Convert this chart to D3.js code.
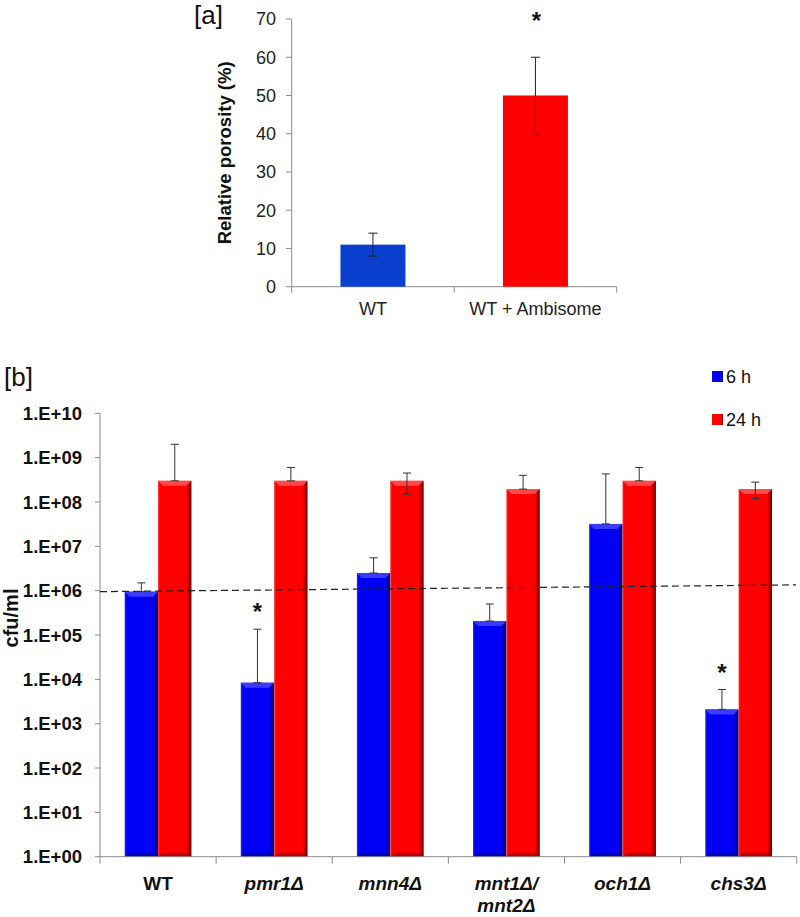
<!DOCTYPE html>
<html><head><meta charset="utf-8">
<script src="https://cdn.jsdelivr.net/npm/d3@7"></script>
<style>body{margin:0;background:#fff;} svg{display:block;font-family:"Liberation Sans", Arial, sans-serif;}</style>
</head><body>
<svg id="chart" width="800" height="917"></svg>
<script>
// ---- Panel a data
const aCategories = ["WT", "WT + Ambisome"];
const aValues = [11, 50];
const aErrors = [3, 10];
const aColors = ["#0b3fd0", "#ff0000"];
const aTicks = [0, 10, 20, 30, 40, 50, 60, 70];
const aSignif = [false, true];

// ---- Panel b data
const bCategories = ["WT", "pmr1Δ", "mnn4Δ", "mnt1Δ/|mnt2Δ", "och1Δ", "chs3Δ"];
const bItalic = [false, true, true, true, true, true];
const series = ["6 h", "24 h"];
const values6h = [9.5e5, 8.4e3, 2.5e6, 2.07e5, 3.2e7, 2.1e3];
const errUp6h = [1.5e6, 1.35e5, 5.5e6, 5e5, 4.3e8, 5.9e3];
const values24h = [3e8, 3e8, 3e8, 1.95e8, 3e8, 1.95e8];
const errUp24h = [2e9, 6e8, 4.5e8, 4e8, 6e8, 2.8e8];
const errLo24h = [3e8, 3e8, 1.5e8, 1.95e8, 3e8, 1.2e8];
const signif6h = [false, true, false, false, false, true];
const bTicks = [1, 10, 1e2, 1e3, 1e4, 1e5, 1e6, 1e7, 1e8, 1e9, 1e10];
const bTickLabels = ["1.E+00","1.E+01","1.E+02","1.E+03","1.E+04","1.E+05","1.E+06","1.E+07","1.E+08","1.E+09","1.E+10"];
const refLine = [9.5e5, 1.35e6]; // dashed reference line, left and right ends

const svg = d3.select("#chart");
const axisColor = "#8a8a8a";

const defs = svg.append("defs");
function grad(id, light, mid, dark) {
  const g = defs.append("linearGradient").attr("id", id).attr("x1", "0").attr("x2", "1").attr("y1", "0").attr("y2", "0");
  g.append("stop").attr("offset", "0").attr("stop-color", light);
  g.append("stop").attr("offset", "0.06").attr("stop-color", mid);
  g.append("stop").attr("offset", "0.85").attr("stop-color", mid);
  g.append("stop").attr("offset", "1").attr("stop-color", dark);
}
grad("gBlue", "#2b2bff", "#0000f6", "#00006a");
grad("gRed", "#ff2a2a", "#ff0000", "#6a0000");

// ================= Panel a
{
  const x = d3.scaleBand().domain(aCategories).range([291.7, 616.7]);
  const y = d3.scaleLinear().domain([0, 70]).range([286.7, 19]);
  const g = svg.append("g");
  g.append("line").attr("x1", 291.7).attr("x2", 291.7).attr("y1", y(70)).attr("y2", y(0)).attr("stroke", axisColor);
  aTicks.forEach(t => {
    g.append("line").attr("x1", 286).attr("x2", 291.7).attr("y1", y(t)).attr("y2", y(t)).attr("stroke", axisColor);
    g.append("text").attr("x", 276).attr("y", y(t)).attr("dy", "0.36em").attr("text-anchor", "end")
      .attr("font-size", 18).attr("fill", "#222").text(t);
  });
  g.append("line").attr("x1", 291.7).attr("x2", 616.7).attr("y1", y(0)).attr("y2", y(0)).attr("stroke", axisColor);
  [0, 1, 2].forEach(i => {
    const xx = 291.7 + i * x.bandwidth();
    g.append("line").attr("x1", xx).attr("x2", xx).attr("y1", y(0)).attr("y2", y(0) + 6).attr("stroke", axisColor);
  });
  aCategories.forEach((c, i) => {
    const bw = x.bandwidth() * 0.4;
    const cx = x(c) + x.bandwidth() / 2;
    g.append("rect").attr("x", cx - bw / 2).attr("y", y(aValues[i])).attr("width", bw)
      .attr("height", y(0) - y(aValues[i])).attr("fill", aColors[i]);
    const e1 = y(aValues[i] + aErrors[i]), e0 = y(aValues[i] - aErrors[i]);
    g.append("line").attr("x1", cx).attr("x2", cx).attr("y1", e1).attr("y2", e0).attr("stroke", "#222");
    [e1, e0].forEach(ey => g.append("line").attr("x1", cx - 4.5).attr("x2", cx + 4.5).attr("y1", ey).attr("y2", ey).attr("stroke", "#222"));
    g.append("text").attr("x", cx).attr("y", 315).attr("text-anchor", "middle").attr("font-size", 18).attr("fill", "#222").text(c);
    if (aSignif[i]) {
      g.append("text").attr("x", cx + 1).attr("y", 29).attr("text-anchor", "middle").attr("font-size", 24).attr("font-weight", "bold").attr("fill", "#111").text("*");
    }
  });
  g.append("text").attr("transform", `translate(231,${(y(0) + y(70)) / 2}) rotate(-90)`).attr("text-anchor", "middle")
    .attr("font-size", 18.5).attr("font-weight", "bold").attr("fill", "#111").text("Relative porosity (%)");
  g.append("text").attr("x", 194).attr("y", 24).attr("font-size", 26).attr("fill", "#111").text("[a]");
}

// ================= Panel b
{
  const x = d3.scaleBand().domain(bCategories).range([100, 796.7]);
  const y = d3.scaleLog().domain([1, 1e10]).range([856.7, 413.3]);
  const g = svg.append("g");
  g.append("line").attr("x1", 100).attr("x2", 100).attr("y1", y(1e10)).attr("y2", y(1)).attr("stroke", axisColor);
  bTicks.forEach((t, i) => {
    g.append("line").attr("x1", 95).attr("x2", 100).attr("y1", y(t)).attr("y2", y(t)).attr("stroke", axisColor);
    g.append("text").attr("x", 82).attr("y", y(t)).attr("dy", "0.36em").attr("text-anchor", "end")
      .attr("font-size", 18.5).attr("font-weight", "bold").attr("fill", "#111").text(bTickLabels[i]);
  });
  const bw = 33.4;
  bCategories.forEach((c, i) => {
    const cx = x(c) + x.bandwidth() / 2;
    const bars = [
      { v: values6h[i], fill: "url(#gBlue)", top: "#4a4aff", bot: "#0000a0", x0: cx - bw },
      { v: values24h[i], fill: "url(#gRed)", top: "#ff5a5a", bot: "#a00000", x0: cx }
    ];
    bars.forEach(b => {
      const yt = y(b.v), yb = y(1);
      g.append("rect").attr("x", b.x0).attr("y", yt).attr("width", bw).attr("height", yb - yt).attr("fill", b.fill);
      g.append("path").attr("d", `M${b.x0},${yt}L${b.x0 + bw},${yt}L${b.x0 + bw - 5},${yt + 5}L${b.x0 + 5},${yt + 5}Z`).attr("fill", b.top).attr("opacity", 0.8);
      g.append("path").attr("d", `M${b.x0},${yb}L${b.x0 + bw},${yb}L${b.x0 + bw - 5},${yb - 4}L${b.x0 + 5},${yb - 4}Z`).attr("fill", b.bot).attr("opacity", 0.7);
    });
    const ebs = [
      { cx: cx - bw / 2, top: errUp6h[i], bot: values6h[i] },
      { cx: cx + bw / 2, top: errUp24h[i], bot: errLo24h[i] }
    ];
    ebs.forEach(e => {
      g.append("line").attr("x1", e.cx).attr("x2", e.cx).attr("y1", y(e.top)).attr("y2", y(e.bot)).attr("stroke", "#333");
      g.append("line").attr("x1", e.cx - 4).attr("x2", e.cx + 4).attr("y1", y(e.top)).attr("y2", y(e.top)).attr("stroke", "#333");
      g.append("line").attr("x1", e.cx - 4).attr("x2", e.cx + 4).attr("y1", y(e.bot)).attr("y2", y(e.bot)).attr("stroke", "#333");
    });
    if (signif6h[i]) {
      g.append("text").attr("x", cx - bw / 2).attr("y", y(errUp6h[i]) - 9).attr("text-anchor", "middle")
        .attr("font-size", 24).attr("font-weight", "bold").attr("fill", "#111").text("*");
    }
    const lines = c.split("|");
    lines.forEach((ln, k) => {
      g.append("text").attr("x", cx).attr("y", 890 + k * 22).attr("text-anchor", "middle")
        .attr("font-size", 19).attr("font-weight", "bold").attr("font-style", bItalic[i] ? "italic" : "normal")
        .attr("fill", "#111").text(ln);
    });
  });
  g.append("line").attr("x1", 100).attr("x2", 796.7).attr("y1", y(1)).attr("y2", y(1)).attr("stroke", axisColor);
  d3.range(bCategories.length + 1).forEach(i => {
    const xx = 100 + i * x.bandwidth();
    g.append("line").attr("x1", xx).attr("x2", xx).attr("y1", y(1)).attr("y2", y(1) + 7).attr("stroke", axisColor);
  });
  g.append("line").attr("x1", 100).attr("x2", 796).attr("y1", y(refLine[0])).attr("y2", y(refLine[1]))
    .attr("stroke", "#222").attr("stroke-width", 1.2).attr("stroke-dasharray", "7,4");
  g.append("text").attr("transform", `translate(18,618) rotate(-90)`).attr("text-anchor", "middle")
    .attr("font-size", 20).attr("font-weight", "bold").attr("fill", "#111").text("cfu/ml");
  g.append("text").attr("x", 4).attr("y", 386).attr("font-size", 26).attr("fill", "#111").text("[b]");
  const leg = [{ t: series[0], fill: "url(#gBlue)", y: 371 }, { t: series[1], fill: "url(#gRed)", y: 414 }];
  leg.forEach(l => {
    g.append("rect").attr("x", 712).attr("y", l.y).attr("width", 11).attr("height", 11).attr("fill", l.fill);
    g.append("text").attr("x", 726).attr("y", l.y + 12).attr("font-size", 18).attr("fill", "#111").text(l.t);
  });
}
</script>
</body></html>
